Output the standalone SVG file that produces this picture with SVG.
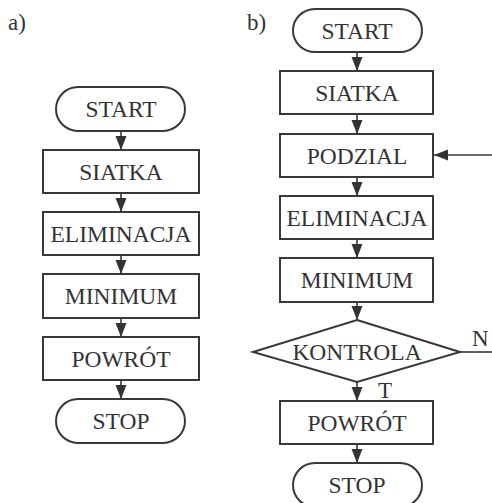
<svg xmlns="http://www.w3.org/2000/svg" width="492" height="503" viewBox="0 0 492 503">
<style>
.box{fill:#fff;stroke:#383838;stroke-width:2}
.t{font-family:"Liberation Serif","Times New Roman",serif;font-size:23.5px;fill:#333;text-anchor:middle}
.lbl{font-family:"Liberation Serif","Times New Roman",serif;font-size:23px;fill:#333}
.c{stroke:#383838;stroke-width:1.6;fill:none}
</style>
<defs>
<marker id="ah" markerUnits="userSpaceOnUse" markerWidth="15" markerHeight="12" refX="14" refY="5.5" orient="auto">
<path d="M0,0 L14,5.5 L0,11 z" fill="#333"/>
</marker>
</defs>
<rect width="492" height="503" fill="#fff"/>
<text class="lbl" x="8" y="30">a)</text>
<text class="lbl" x="247" y="30">b)</text>
<g id="connectors">
<line class="c" x1="121" y1="131" x2="121" y2="150" marker-end="url(#ah)"/>
<line class="c" x1="121" y1="193" x2="121" y2="212" marker-end="url(#ah)"/>
<line class="c" x1="121" y1="255" x2="121" y2="274" marker-end="url(#ah)"/>
<line class="c" x1="121" y1="318" x2="121" y2="337" marker-end="url(#ah)"/>
<line class="c" x1="121" y1="380" x2="121" y2="399" marker-end="url(#ah)"/>
<line class="c" x1="357" y1="52" x2="357" y2="71" marker-end="url(#ah)"/>
<line class="c" x1="357" y1="114" x2="357" y2="134" marker-end="url(#ah)"/>
<line class="c" x1="357" y1="177" x2="357" y2="196" marker-end="url(#ah)"/>
<line class="c" x1="357" y1="239" x2="357" y2="258" marker-end="url(#ah)"/>
<line class="c" x1="357" y1="302" x2="357" y2="320" marker-end="url(#ah)"/>
<line class="c" x1="357" y1="382" x2="357" y2="401" marker-end="url(#ah)"/>
<line class="c" x1="357" y1="444" x2="357" y2="463" marker-end="url(#ah)"/>
<line class="c" x1="492" y1="155" x2="434" y2="155" marker-end="url(#ah)"/>
<line class="c" x1="460" y1="352" x2="492" y2="352"/>
<text class="lbl" x="472" y="346">N</text>
<text class="lbl" x="378" y="398">T</text>
</g>
<g id="a_start"><rect class="box" x="56" y="87" width="129" height="44" rx="22"/><text class="t" x="121" y="117">START</text></g>
<g id="a_siatka"><rect class="box" x="43" y="150" width="156" height="43"/><text class="t" x="121" y="180">SIATKA</text></g>
<g id="a_eliminacja"><rect class="box" x="43" y="212" width="156" height="43"/><text class="t" x="121" y="242">ELIMINACJA</text></g>
<g id="a_minimum"><rect class="box" x="43" y="274" width="156" height="44"/><text class="t" x="121" y="304">MINIMUM</text></g>
<g id="a_powrot"><rect class="box" x="43" y="337" width="156" height="43"/><text class="t" x="121" y="367">POWRÓT</text></g>
<g id="a_stop"><rect class="box" x="56" y="399" width="129" height="44" rx="22"/><text class="t" x="121" y="429">STOP</text></g>
<g id="b_start"><rect class="box" x="293" y="9" width="129" height="43" rx="22"/><text class="t" x="357" y="39">START</text></g>
<g id="b_siatka"><rect class="box" x="280" y="71" width="153" height="43"/><text class="t" x="357" y="101">SIATKA</text></g>
<g id="b_podzial"><rect class="box" x="280" y="134" width="153" height="43"/><text class="t" x="357" y="164">PODZIAL</text></g>
<g id="b_eliminacja"><rect class="box" x="280" y="196" width="153" height="43"/><text class="t" x="357" y="226">ELIMINACJA</text></g>
<g id="b_minimum"><rect class="box" x="280" y="258" width="153" height="44"/><text class="t" x="357" y="288">MINIMUM</text></g>
<g id="b_kontrola"><polygon class="box" points="357,320 460,352 357,382 253,352"/><text class="t" x="357" y="360">KONTROLA</text></g>
<g id="b_powrot"><rect class="box" x="280" y="401" width="153" height="43"/><text class="t" x="357" y="431">POWRÓT</text></g>
<g id="b_stop"><rect class="box" x="293" y="463" width="129" height="44" rx="22"/><text class="t" x="357" y="493">STOP</text></g>
</svg>
